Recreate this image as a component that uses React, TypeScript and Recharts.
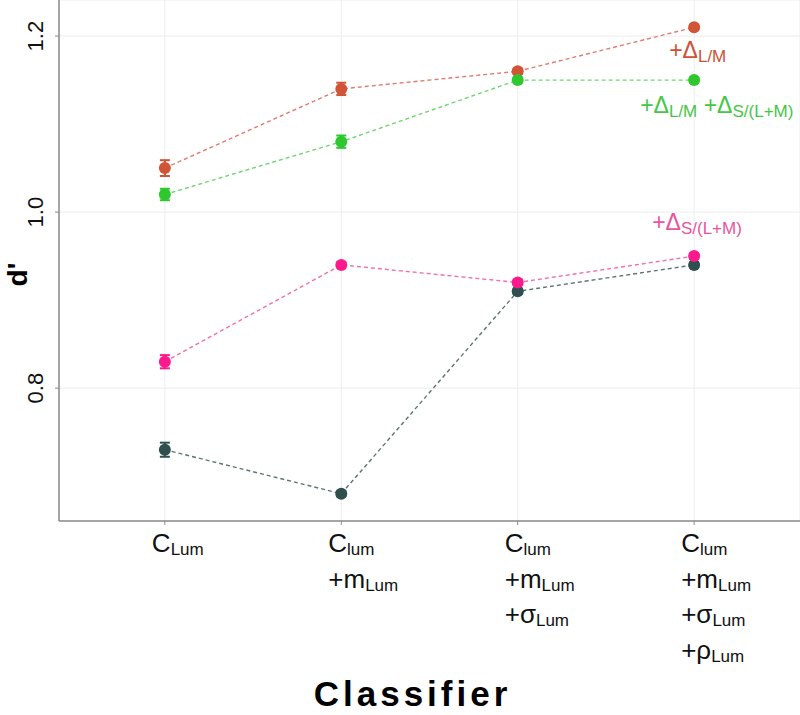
import React from 'react';
import { LineChart, Line, XAxis, YAxis, CartesianGrid, ErrorBar, LabelList } from 'recharts';

// classifier categories, each tick label is a list of [main, subscript] lines
const classifierLabels: [string, string][][] = [
  [['C', 'Lum']],
  [['C', 'lum'], ['+m', 'Lum']],
  [['C', 'lum'], ['+m', 'Lum'], ['+σ', 'Lum']],
  [['C', 'lum'], ['+m', 'Lum'], ['+σ', 'Lum'], ['+ρ', 'Lum']],
];
const positions = [1, 2, 3, 4];

// d' per classifier
const lumOnly = [0.73, 0.68, 0.91, 0.94];
const lumOnlyErr = [0.008, 0.003, 0.003, 0.003];
const plusLM = [1.05, 1.14, 1.16, 1.21];
const plusLMErr = [0.009, 0.007, 0.003, 0.003];
const plusSLM = [0.83, 0.94, 0.92, 0.95];
const plusSLMErr = [0.0075, 0.003, 0.003, 0.003];
const plusBoth = [1.02, 1.08, 1.15, 1.15];
const plusBothErr = [0.0065, 0.007, 0.003, 0.003];

const yTicks = [0.8, 1.0, 1.2];

// annotation text next to the last point of a series
const annotLM: [string, string][] = [['+Δ', 'L/M']];
const annotSLM: [string, string][] = [['+Δ', 'S/(L+M)']];
const annotBoth: [string, string][] = [['+Δ', 'L/M'], ['+Δ', 'S/(L+M)']];

const FONT = '"Liberation Sans", Arial, Helvetica, sans-serif';
const AXIS = '#8a8a8a';

const rows = positions.map((x, i) => ({
  x,
  lum: lumOnly[i],
  lumErr: lumOnlyErr[i],
  lm: plusLM[i],
  lmErr: plusLMErr[i],
  slm: plusSLM[i],
  slmErr: plusSLMErr[i],
  both: plusBoth[i],
  bothErr: plusBothErr[i],
}));

const XTick = (props: any) => {
  const { x, y, payload } = props;
  const lines = classifierLabels[positions.indexOf(payload.value)] || [];
  return (
    <g>
      {lines.map(([m, s], k) => (
        <text key={k} x={x - 13} y={y + 25 + k * 35.5} fontSize={26} fill="#111" fontFamily={FONT}>
          <tspan>{m}</tspan>
          <tspan fontSize={17} dy={3}>{s}</tspan>
        </text>
      ))}
    </g>
  );
};

const YTick = (props: any) => {
  const { x, y, payload } = props;
  return (
    <text
      transform={`translate(${x - 10},${y}) rotate(-90)`}
      textAnchor="middle"
      fontSize={22}
      fill="#111"
      fontFamily={FONT}
    >
      {payload.value.toFixed(1)}
    </text>
  );
};

const annot = (parts: [string, string][], color: string, dx: number, dy: number) => (props: any) => {
  if (props.index !== positions.length - 1) return null;
  const px = props.viewBox?.x ?? props.x;
  const py = props.viewBox?.y ?? props.y;
  return (
    <text x={px + dx} y={py + dy} fill={color} fontSize={23} fontFamily={FONT} style={{ whiteSpace: 'pre' }}>
      {parts.map(([m, s], k) => [
        <tspan key={'m' + k} dy={k === 0 ? 0 : -4}>{(k > 0 ? ' ' : '') + m}</tspan>,
        <tspan key={'s' + k} fontSize={17} dy={4}>{s}</tspan>,
      ])}
    </text>
  );
};

const series = [
  { key: 'lum', color: '#2f4f4f', line: '#5f7373', label: null as any },
  { key: 'lm', color: '#cf5536', line: '#df7b70', label: annot(annotLM, '#cc5136', -25, 31) },
  { key: 'slm', color: '#fb1a8c', line: '#f070aa', label: annot(annotSLM, '#e8559e', -42, -26) },
  { key: 'both', color: '#2ec82e', line: '#6fd66f', label: annot(annotBoth, '#44c744', -54, 33) },
];

export default function App() {
  return (
    <div style={{ position: 'absolute', left: 0, top: 0, background: '#fff' }}>
      <LineChart width={800} height={715} data={rows} margin={{ top: 0, right: 0, bottom: 0, left: 0 }}>
        <CartesianGrid stroke="#ededed" strokeWidth={1} />
        <XAxis
          dataKey="x"
          type="number"
          domain={[0.4, 4.6]}
          ticks={positions}
          interval={0}
          height={194}
          tick={<XTick />}
          tickSize={4}
          tickLine={{ stroke: AXIS }}
          axisLine={{ stroke: AXIS, strokeWidth: 1.5 }}
          label={{
            content: (p: any) => {
              const vb = p.viewBox;
              return (
                <text
                  x={vb.x + vb.width / 2 - 17}
                  y={vb.y + 185}
                  textAnchor="middle"
                  fontSize={35}
                  fontWeight="bold"
                  letterSpacing={4}
                  fontFamily={FONT}
                  fill="#000"
                >
                  Classifier
                </text>
              );
            },
          }}
        />
        <YAxis
          type="number"
          domain={[0.649, 1.241]}
          ticks={yTicks}
          width={59}
          tick={<YTick />}
          tickSize={4}
          tickLine={{ stroke: AXIS }}
          axisLine={{ stroke: AXIS, strokeWidth: 1.5 }}
          label={{
            content: (p: any) => {
              const vb = p.viewBox;
              return (
                <text
                  transform={`translate(${vb.x + 27},${vb.y + vb.height / 2 + 14}) rotate(-90)`}
                  textAnchor="middle"
                  fontSize={28}
                  fontWeight="bold"
                  fontFamily={FONT}
                  fill="#000"
                >
                  d'
                </text>
              );
            },
          }}
        />
        {series.map((s) => (
          <Line
            key={s.key}
            dataKey={s.key}
            stroke={s.line}
            strokeWidth={1.4}
            strokeDasharray="4 3"
            dot={{ r: 6, fill: s.color, stroke: 'none', strokeDasharray: '' }}
            activeDot={false}
            isAnimationActive={false}
          >
            <ErrorBar dataKey={s.key + 'Err'} width={5} stroke={s.color} strokeWidth={2} direction="y" />
            {s.label && <LabelList dataKey={s.key} content={s.label} />}
          </Line>
        ))}
      </LineChart>
    </div>
  );
}
